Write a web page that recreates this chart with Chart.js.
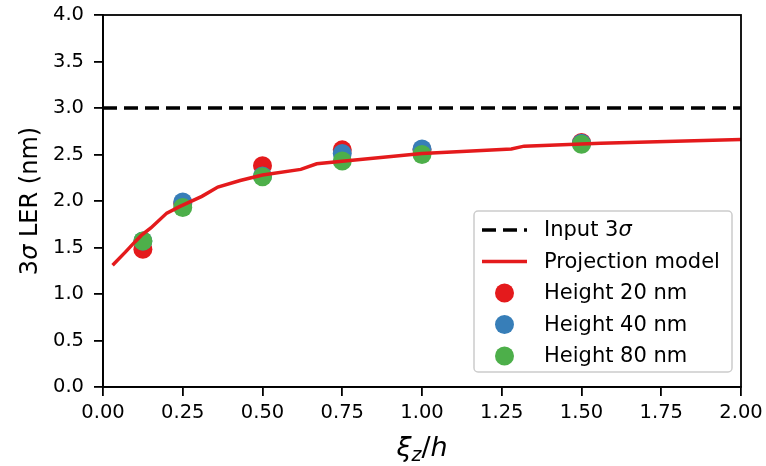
<!DOCTYPE html>
<html>
<head>
<meta charset="utf-8">
<script src="https://cdn.jsdelivr.net/npm/chart.js@4.4.1/dist/chart.umd.min.js"></script>
<style>
  html, body { margin: 0; padding: 0; background: #fff; }
  #wrap { width: 766px; height: 466px; }
</style>
</head>
<body>
<div id="wrap"><canvas id="lerChart" width="766" height="466"></canvas></div>
<script>
// ξz/h values where the roughness was measured
const heightX = [0.125, 0.25, 0.5, 0.75, 1.0, 1.5];
const ler20 = [1.48, 1.97, 2.38, 2.55, 2.55, 2.63];
const ler40 = [1.57, 1.99, 2.27, 2.51, 2.56, 2.62];
const ler80 = [1.57, 1.93, 2.26, 2.43, 2.50, 2.61];

// projection model curve
const modelX = [0.03, 0.07, 0.10, 0.12, 0.15, 0.20, 0.24, 0.31, 0.36, 0.43, 0.50, 0.62, 0.67, 0.79, 1.00, 1.28, 1.32, 1.56, 2.00];
const modelY = [1.31, 1.45, 1.56, 1.63, 1.71, 1.87, 1.94, 2.05, 2.15, 2.22, 2.28, 2.34, 2.40, 2.44, 2.51, 2.56, 2.59, 2.62, 2.66];

const inputSigma = 3.0;
const xTicks = [0, 0.25, 0.5, 0.75, 1.0, 1.25, 1.5, 1.75, 2.0];
const yTicks = [0, 0.5, 1.0, 1.5, 2.0, 2.5, 3.0, 3.5, 4.0];

const RED = '#e41a1c', BLUE = '#377eb8', GREEN = '#4daf4a';
const FONT = '"DejaVu Sans", sans-serif';

const toPts = (xs, ys) => xs.map((x, i) => ({ x: x, y: ys[i] }));

// frame, axis titles and the legend box
const decorations = {
    id: 'decorations',
    afterDraw(chart) {
        const ctx = chart.ctx;
        const a = chart.chartArea;
        ctx.save();
        ctx.strokeStyle = '#000';
        ctx.lineWidth = 1.8;
        ctx.strokeRect(a.left, a.top, a.right - a.left, a.bottom - a.top);

        // x title: ξ_z / h
        ctx.fillStyle = '#000';
        ctx.textBaseline = 'alphabetic';
        ctx.textAlign = 'left';
        const big = 'italic 27px ' + FONT, small = 'italic 19px ' + FONT, plain = '27px ' + FONT;
        const parts = [['ξ', big, 0], ['z', small, 5], ['/', plain, 0], ['h', big, 0]];
        let w = 0;
        parts.forEach(p => { ctx.font = p[1]; w += ctx.measureText(p[0]).width; });
        let x = (a.left + a.right) / 2 - w / 2;
        const baseY = 456;
        parts.forEach(p => {
            ctx.font = p[1];
            ctx.fillText(p[0], x, baseY + p[2]);
            x += ctx.measureText(p[0]).width;
        });

        // y title: 3σ LER (nm)
        ctx.translate(37, (a.top + a.bottom) / 2);
        ctx.rotate(-Math.PI / 2);
        const yparts = [['3', '24px ' + FONT], ['σ', 'italic 24px ' + FONT], [' LER (nm)', '24px ' + FONT]];
        w = 0;
        yparts.forEach(p => { ctx.font = p[1]; w += ctx.measureText(p[0]).width; });
        x = -w / 2;
        yparts.forEach(p => {
            ctx.font = p[1];
            ctx.fillText(p[0], x, 0);
            x += ctx.measureText(p[0]).width;
        });
        ctx.restore();

        // legend
        ctx.save();
        const bx = a.right - 267, by = a.bottom - 176, bw = 258, bh = 161;
        ctx.beginPath();
        ctx.roundRect(bx, by, bw, bh, 4);
        ctx.fillStyle = 'rgba(255,255,255,0.85)';
        ctx.fill();
        ctx.strokeStyle = '#cccccc';
        ctx.lineWidth = 1.5;
        ctx.stroke();

        const rows = [
            { label: ['Input 3', 'σ'], kind: 'dash', color: '#000' },
            { label: ['Projection model'], kind: 'line', color: RED },
            { label: ['Height 20 nm'], kind: 'dot', color: RED },
            { label: ['Height 40 nm'], kind: 'dot', color: BLUE },
            { label: ['Height 80 nm'], kind: 'dot', color: GREEN }
        ];
        const sx0 = bx + 8, sx1 = bx + 53, tx = bx + 70;
        ctx.textAlign = 'left';
        rows.forEach((r, i) => {
            const cy = by + 19 + i * 31.5;
            if (r.kind === 'dot') {
                ctx.beginPath();
                ctx.arc((sx0 + sx1) / 2, cy, 9.5, 0, Math.PI * 2);
                ctx.fillStyle = r.color;
                ctx.fill();
            } else {
                ctx.beginPath();
                ctx.strokeStyle = r.color;
                ctx.lineWidth = 3.5;
                ctx.setLineDash(r.kind === 'dash' ? [14, 7] : []);
                ctx.moveTo(sx0, cy);
                ctx.lineTo(sx1, cy);
                ctx.stroke();
                ctx.setLineDash([]);
            }
            ctx.fillStyle = '#000';
            ctx.textBaseline = 'middle';
            let lx = tx;
            r.label.forEach((t, k) => {
                ctx.font = (k === 1 ? 'italic ' : '') + '21px ' + FONT;
                ctx.fillText(t, lx, cy + 1);
                lx += ctx.measureText(t).width;
            });
        });
        ctx.restore();
    }
};

new Chart(document.getElementById('lerChart'), {
    type: 'scatter',
    data: {
        datasets: [
            {
                label: 'Input 3σ',
                data: [{ x: 0, y: inputSigma }, { x: 2, y: inputSigma }],
                showLine: true, borderColor: '#000', borderWidth: 3.5, borderDash: [14, 7],
                pointRadius: 0, order: 0
            },
            {
                label: 'Projection model',
                data: toPts(modelX, modelY),
                showLine: true, borderColor: RED, borderWidth: 3.5,
                pointRadius: 0, order: 0
            },
            {
                label: 'Height 20 nm', data: toPts(heightX, ler20),
                backgroundColor: RED, borderWidth: 0, pointRadius: 9.5, order: 3
            },
            {
                label: 'Height 40 nm', data: toPts(heightX, ler40),
                backgroundColor: BLUE, borderWidth: 0, pointRadius: 9.5, order: 2
            },
            {
                label: 'Height 80 nm', data: toPts(heightX, ler80),
                backgroundColor: GREEN, borderWidth: 0, pointRadius: 9.5, order: 1
            }
        ]
    },
    options: {
        responsive: false,
        animation: false,
        devicePixelRatio: 1,
        layout: { padding: { top: 15, right: 25, left: 0, bottom: 0 } },
        plugins: { legend: { display: false }, tooltip: { enabled: false } },
        scales: {
            x: {
                type: 'linear', min: 0, max: 2,
                afterBuildTicks: s => { s.ticks = xTicks.map(v => ({ value: v })); },
                afterFit: s => { s.height = 79; s.paddingLeft = 0; s.paddingRight = 0; },
                grid: { drawOnChartArea: false, drawTicks: true, tickLength: 9, color: '#000', lineWidth: 1.8 },
                border: { display: true, color: '#000', width: 1.8 },
                ticks: {
                    color: '#000', font: { family: FONT, size: 19.5 }, padding: 5,
                    maxRotation: 0, callback: v => v.toFixed(2)
                }
            },
            y: {
                type: 'linear', min: 0, max: 4,
                afterBuildTicks: s => { s.ticks = yTicks.map(v => ({ value: v })); },
                afterFit: s => { s.width = 103; s.paddingTop = 0; s.paddingBottom = 0; },
                grid: { drawOnChartArea: false, drawTicks: true, tickLength: 9, color: '#000', lineWidth: 1.8 },
                border: { display: true, color: '#000', width: 1.8 },
                ticks: {
                    color: '#000', font: { family: FONT, size: 19.5 }, padding: 10,
                    callback: v => v.toFixed(1)
                }
            }
        }
    },
    plugins: [decorations]
});
</script>
</body>
</html>
